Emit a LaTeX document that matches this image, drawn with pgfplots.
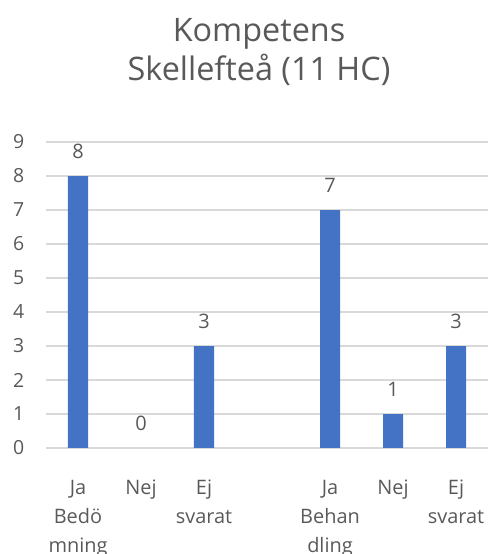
\documentclass[border=0pt]{standalone}
\usepackage{fontspec}
\setmainfont{Open Sans}
\usepackage{pgfplots}
\pgfplotsset{compat=1.18}
\definecolor{barblue}{HTML}{4472C4}
\definecolor{txtgray}{HTML}{595959}
\definecolor{gridgray}{HTML}{D9D9D9}

\begin{document}
\begin{tikzpicture}
\useasboundingbox (0,0) rectangle (490bp,554bp);
% chart title, two lines
\node[text=txtgray, font=\fontsize{32.5}{38}\selectfont, anchor=base] at (259bp,512bp) {Kompetens};
\node[text=txtgray, font=\fontsize{32.5}{38}\selectfont, anchor=base] at (259bp,473bp) {Skellefteå (11 HC)};
\begin{axis}[
  at={(46.5bp,106bp)}, anchor=south west,
  scale only axis, width=441bp, height=306bp,
  xmin=-0.5, xmax=6.5, ymin=0, ymax=9,
  ytick={0,...,9},
  xtick={0,1,2,4,5,6},
  xticklabels={Ja\\Bedö\\mning, Nej, Ej\\svarat, Ja\\Behan\\dling, Nej, Ej\\svarat},
  /pgf/number format/assume math mode=true,
  axis line style={draw=none},
  major tick length=0pt,
  ymajorgrids, major grid style={gridgray, line width=1.2pt},
  yticklabel style={font=\fontsize{19.5}{22}\selectfont, text=txtgray, anchor=east, inner sep=0pt, xshift=-22bp},
  xticklabel style={font=\fontsize{20}{29}\selectfont, text=txtgray, align=center, anchor=north, inner sep=0pt, yshift=-32bp},
  nodes near coords,
  nodes near coords style={font=\fontsize{20}{24}\selectfont, text=txtgray, anchor=south, inner sep=0pt, yshift=17bp},
]
\addplot[ybar, bar width=20bp, fill=barblue, draw=none]
  coordinates {(0,8) (1,0) (2,3) (4,7) (5,1) (6,3)};
\end{axis}
\end{tikzpicture}
\end{document}
